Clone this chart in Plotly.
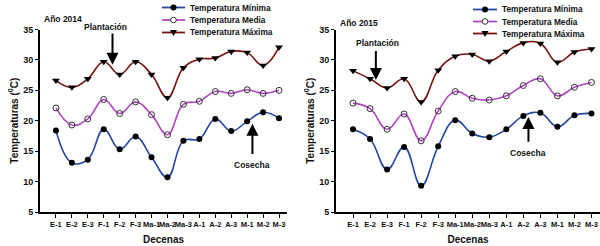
import plotly.graph_objects as go

# ---------------- data ----------------
decenas = ["E-1", "E-2", "E-3", "F-1", "F-2", "F-3", "Ma-1", "Ma-2", "Ma-3",
           "A-1", "A-2", "A-3", "M-1", "M-2", "M-3"]
min_2014 = [18.4, 13.1, 13.6, 18.6, 15.3, 17.4, 14.0, 10.7, 16.7, 17.0, 20.3, 18.3, 19.9, 21.4, 20.4]
med_2014 = [22.1, 19.3, 20.3, 23.5, 21.2, 23.1, 21.0, 17.7, 22.7, 23.2, 24.8, 24.5, 25.1, 24.5, 25.0]
max_2014 = [26.6, 25.5, 26.9, 29.7, 27.6, 29.7, 27.6, 23.8, 28.7, 30.1, 30.3, 31.4, 31.2, 29.1, 32.1]
min_2015 = [18.6, 17.0, 12.0, 15.7, 9.3, 15.8, 20.1, 17.9, 17.3, 18.6, 20.8, 21.3, 19.0, 20.9, 21.2]
med_2015 = [22.9, 22.0, 18.6, 21.1, 16.7, 21.6, 24.8, 23.7, 23.4, 24.1, 25.8, 26.9, 24.1, 25.5, 26.3]
max_2015 = [28.2, 26.9, 25.4, 26.9, 23.1, 28.3, 30.6, 30.9, 29.8, 31.4, 32.8, 32.7, 29.6, 31.3, 31.8]
series_names = ["Temperatura Mínima", "Temperatura Media", "Temperatura Máxima"]
year_labels = ["Año 2014", "Año 2015"]
y_ticks = [5, 10, 15, 20, 25, 30, 35]

# ---------------- styles ----------------
FONT = "Liberation Sans, Arial, sans-serif"
line_colors = ["#2446a6", "#b146c2", "#7a1212"]
marker_styles = [
    dict(symbol="circle", size=6, color="black", line=dict(color="black", width=0)),
    dict(symbol="circle-open", size=6, color="#333333", line=dict(color="#333333", width=1)),
    dict(symbol="triangle-down", size=7, color="black", line=dict(color="black", width=0)),
]

fig = go.Figure()

panels = [
    ("x", "y", [min_2014, med_2014, max_2014]),
    ("x2", "y2", [min_2015, med_2015, max_2015]),
]
for xa, ya, series in panels:
    for name, vals, col, mk in zip(series_names, series, line_colors, marker_styles):
        fig.add_trace(go.Scatter(
            x=decenas, y=vals, name=name, xaxis=xa, yaxis=ya,
            mode="lines+markers",
            line=dict(color=col, width=1.6, shape="spline", smoothing=1.2),
            marker=mk, showlegend=False, cliponaxis=False,
        ))

tick_font = dict(family=FONT, size=7.5, color="#111111", weight="bold")
ytick_font = dict(family=FONT, size=9, color="#111111", weight="bold")
title_font = dict(family=FONT, size=10, color="#111111", weight="bold")

ydom = [34 / 246, 216.5 / 246]
common_x = dict(type="category", range=[-1, 14.5], showline=True, linecolor="black",
                linewidth=2, ticks="outside", ticklen=4, tickcolor="black", tickwidth=1,
                showgrid=False, zeroline=False, tickfont=tick_font, tickangle=0,
                automargin=False,
                title=dict(text="Decenas", font=title_font, standoff=8))
common_y = dict(range=[5, 35], tickvals=y_ticks, showline=True, linecolor="black",
                linewidth=2, ticks="outside", ticklen=3, tickcolor="black", tickwidth=1,
                showgrid=False, zeroline=False, tickfont=ytick_font, domain=ydom,
                automargin=False,
                title=dict(text="Temperaturas (<sup>0</sup>C)", font=title_font, standoff=3))

fig.update_layout(
    width=600, height=246,
    margin=dict(l=0, r=0, t=0, b=0, autoexpand=False),
    paper_bgcolor="white", plot_bgcolor="white",
    showlegend=False,
    xaxis=dict(domain=[40 / 600, 287 / 600], anchor="y", **common_x),
    yaxis=dict(anchor="x", **common_y),
    xaxis2=dict(domain=[336 / 600, 1.0], anchor="y2", **common_x),
    yaxis2=dict(anchor="x2", **common_y),
)

# ---------------- custom legends (compact) ----------------
shapes = []
annotations = []
legend_specs = [
    (162, 185, 188, [7.5, 20.0, 32.5]),
    (473, 497, 500, [9.5, 21.5, 33.5]),
]
W, H = 600.0, 246.0
legend_font = dict(family=FONT, size=8.3, color="#111111", weight="bold")
for lx0, lx1, tx, rows in legend_specs:
    cx = (lx0 + lx1) / 2 / W
    for i, (name, col, ry) in enumerate(zip(series_names, line_colors, rows)):
        py = 1 - ry / H
        shapes.append(dict(type="line", xref="paper", yref="paper",
                           x0=lx0 / W, x1=lx1 / W, y0=py, y1=py,
                           line=dict(color=col, width=1.8)))
        if i == 0:
            shapes.append(dict(type="circle", xref="paper", yref="paper",
                               xsizemode="pixel", ysizemode="pixel", xanchor=cx, yanchor=py,
                               x0=-3, x1=3, y0=-3, y1=3,
                               fillcolor="black", line=dict(color="black", width=0)))
        elif i == 1:
            shapes.append(dict(type="circle", xref="paper", yref="paper",
                               xsizemode="pixel", ysizemode="pixel", xanchor=cx, yanchor=py,
                               x0=-2.8, x1=2.8, y0=-2.8, y1=2.8,
                               fillcolor="white", line=dict(color="#333333", width=1)))
        else:
            shapes.append(dict(type="path", xref="paper", yref="paper",
                               xsizemode="pixel", ysizemode="pixel", xanchor=cx, yanchor=py,
                               path="M -3.5 2.5 L 3.5 2.5 L 0 -3.5 Z",
                               fillcolor="black", line=dict(color="black", width=0)))
        annotations.append(dict(text=name, xref="paper", yref="paper",
                                 x=tx / W, y=py, xanchor="left", yanchor="middle",
                                 showarrow=False, font=legend_font))

small_font = dict(family=FONT, size=8.5, color="#111111", weight="bold")

# year labels
for lbl, px, pyy in zip(year_labels, [42, 338], [19.3, 23.3]):
    annotations.append(dict(text=lbl, xref="paper", yref="paper", x=px / W, y=1 - pyy / H,
                             xanchor="left", yanchor="middle", showarrow=False,
                             font=small_font))

# Plantación / Cosecha labels (paper coords) and arrows (data coords)
event_texts = [
    ("Plantación", 105, 27),
    ("Cosecha", 252, 165),
    ("Plantación", 377, 43.3),
    ("Cosecha", 528, 152.7),
]
for txt, px, pyy in event_texts:
    annotations.append(dict(text=txt, xref="paper", yref="paper", x=px / W, y=1 - pyy / H,
                             showarrow=False, xanchor="center", yanchor="middle",
                             font=small_font))

event_arrows = [
    # xref, yref, arrow_x, tip_y, tail_y
    ("x", "y", 3.55, 29.2, 34.6),
    ("x", "y", 12.33, 19.5, 14.3),
    ("x2", "y2", 1.34, 26.7, 31.7),
    ("x2", "y2", 10.3, 20.6, 16.3),
]
for xr, yr, ax_, tip, tail in event_arrows:
    annotations.append(dict(text="", xref=xr, yref=yr, x=ax_, y=tip,
                             axref=xr, ayref=yr, ax=ax_, ay=tail,
                             showarrow=True, arrowhead=2, arrowsize=1.2, arrowwidth=2,
                             arrowcolor="black", standoff=0, startstandoff=0))

fig.update_layout(shapes=shapes, annotations=annotations)

fig.write_html("out.html", config={"displayModeBar": False},
               post_script="document.body.style.margin='0px';")
